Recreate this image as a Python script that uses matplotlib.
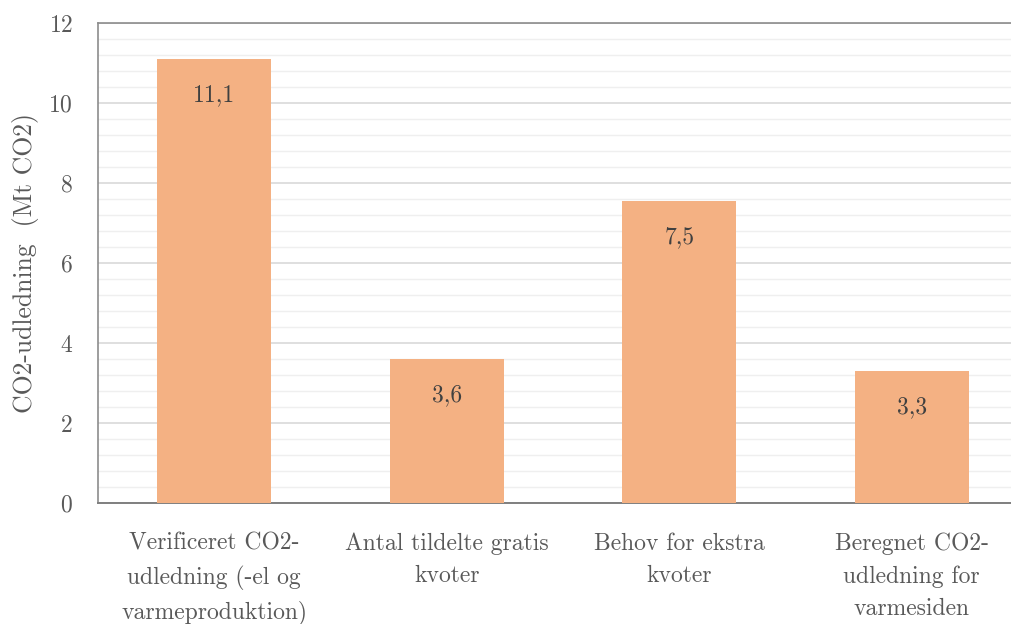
import matplotlib
matplotlib.use("Agg")
import matplotlib.pyplot as plt
from matplotlib.ticker import MultipleLocator

categories = ["Verificeret CO2-\nudledning (-el og\nvarmeproduktion)",
              "Antal tildelte gratis\nkvoter",
              "Behov for ekstra\nkvoter",
              "Beregnet CO2-\nudledning for\nvarmesiden"]
values = [11.1, 3.6, 7.55, 3.3]
value_labels = ["11,1", "3,6", "7,5", "3,3"]

plt.rcParams['font.family'] = ['cmr10', 'DejaVu Serif']
plt.rcParams['axes.formatter.use_mathtext'] = True
txt = '#595959'
fs = 17

fig = plt.figure(figsize=(10.11, 6.24), dpi=100)
ax = fig.add_axes([98/1011, 1 - 503/624, 930/1011, 480/624])

x = range(len(values))
ax.bar(x, values, width=0.49, color='#F4B183', zorder=3)
for i, v in enumerate(values):
    ax.text(i, v - 0.9, value_labels[i], ha='center', va='center',
            fontsize=fs, color='#404040', zorder=4)

ax.set_xlim(-0.5, 3.5)
ax.set_ylim(0, 12)
ax.yaxis.set_major_locator(MultipleLocator(2))
ax.yaxis.set_minor_locator(MultipleLocator(0.4))
ax.grid(axis='y', which='major', color='#d9d9d9', linewidth=1.2, zorder=0)
ax.grid(axis='y', which='minor', color='#efefef', linewidth=1.0, zorder=0)

ax.set_xticks(list(x))
ax.set_xticklabels(categories, fontsize=fs, color=txt, linespacing=1.57)
ax.tick_params(axis='x', length=0, pad=21.5)
ax.tick_params(axis='y', which='both', length=0, pad=18, labelsize=fs, labelcolor=txt)
ax.set_ylabel("CO2-udledning  (Mt CO2)", fontsize=18.5, color=txt, labelpad=7)

for s in ['left', 'top']:
    ax.spines[s].set_color('#8c8c8c')
    ax.spines[s].set_linewidth(1.2)
ax.spines['bottom'].set_color('#7f7f7f')
ax.spines['bottom'].set_linewidth(1.4)
ax.spines['right'].set_visible(False)

fig.savefig("out.png", dpi=100)
